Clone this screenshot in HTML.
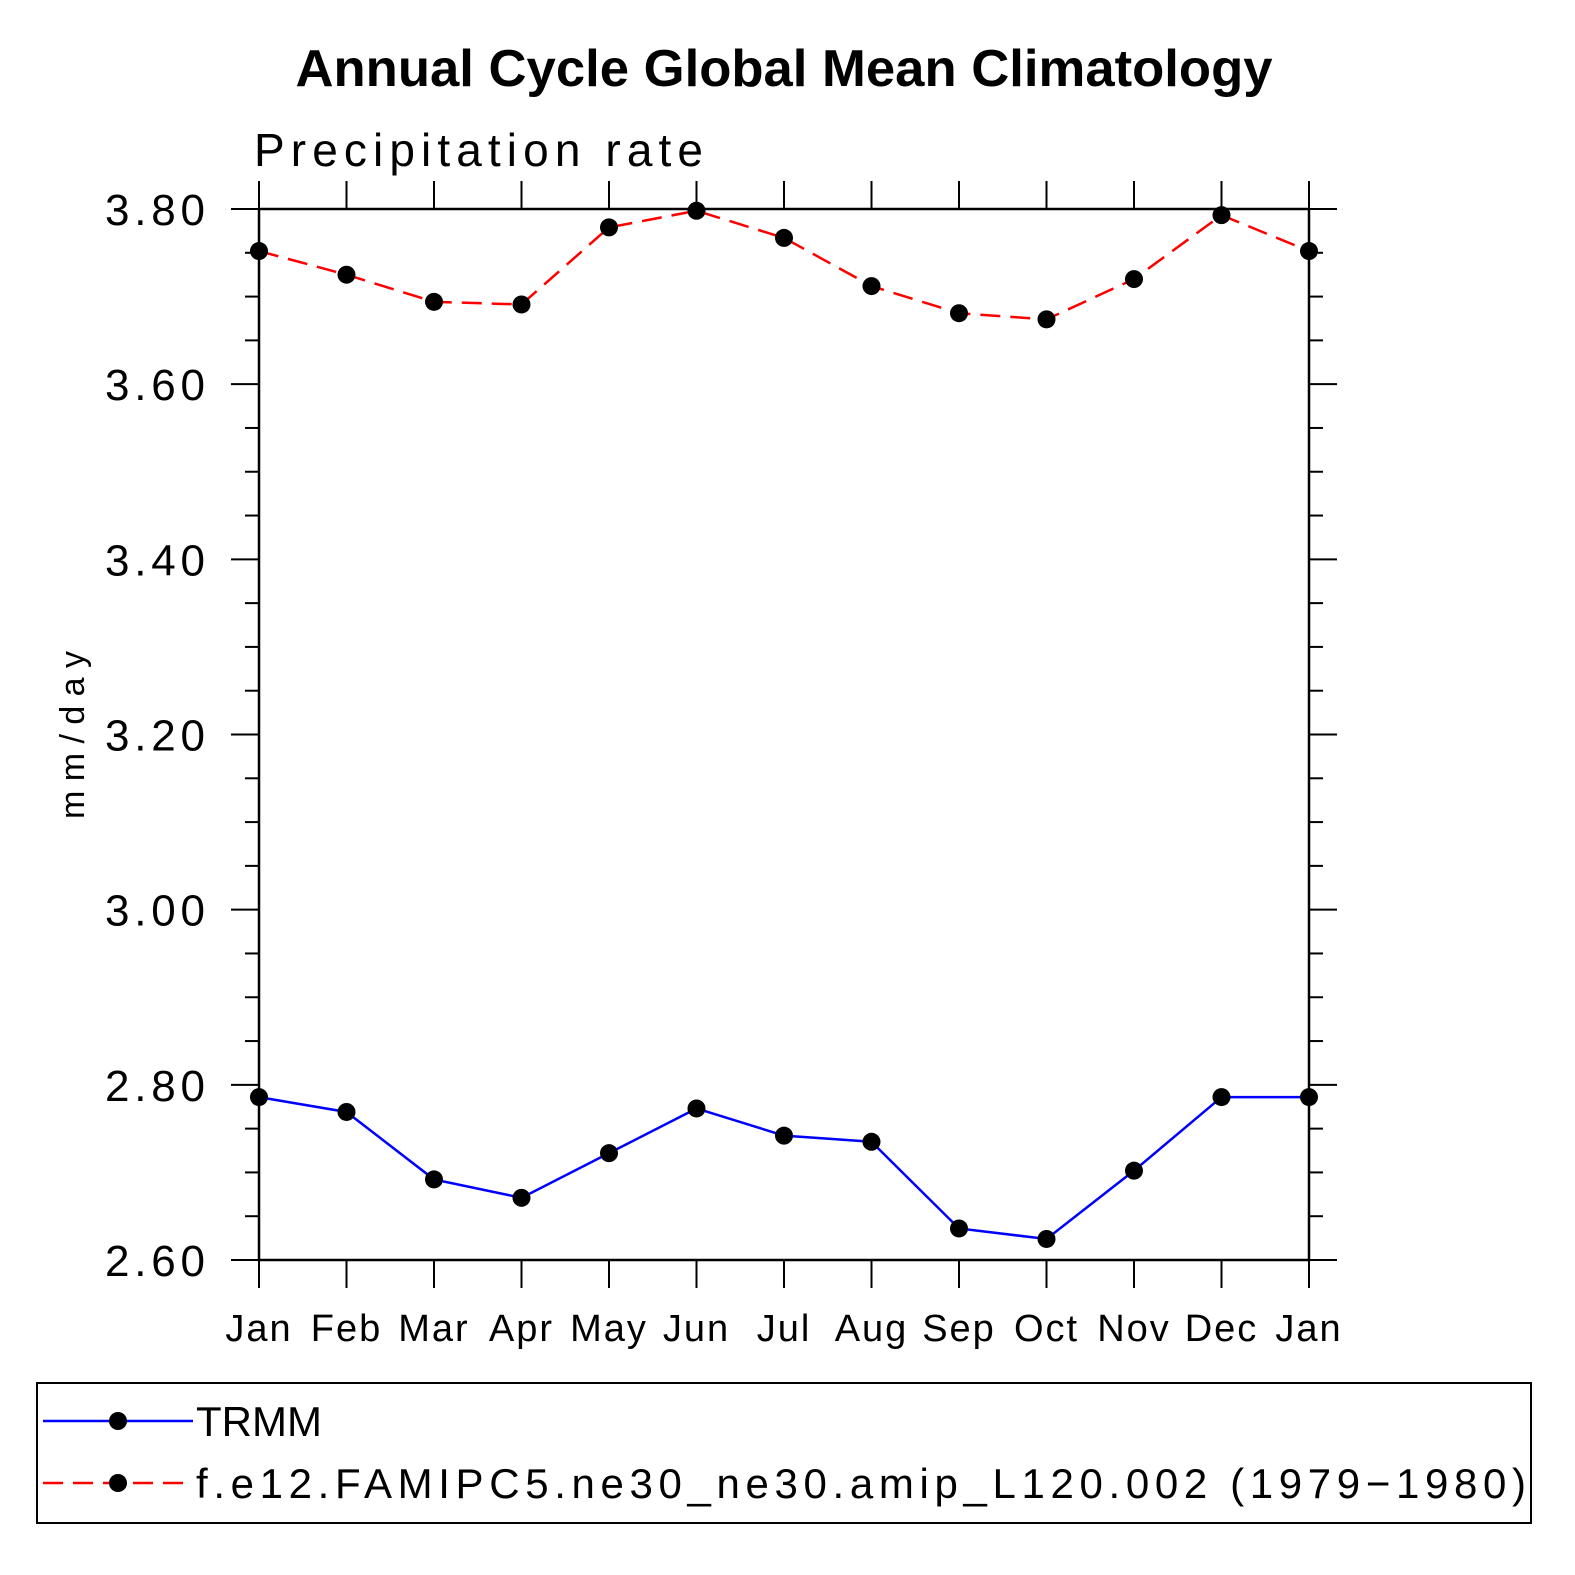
<!DOCTYPE html>
<html><head><meta charset="utf-8"><style>
html,body{margin:0;padding:0;background:#fff;}
svg{display:block;font-family:"Liberation Sans",sans-serif;}
</style></head><body>
<svg id="chart" width="1575" height="1575" viewBox="0 0 1575 1575" xmlns="http://www.w3.org/2000/svg">
<text x="784" y="86" text-anchor="middle" font-size="52" font-weight="bold" textLength="977" lengthAdjust="spacingAndGlyphs">Annual Cycle Global Mean Climatology</text>
<text x="254" y="166" font-size="46" fill="#000" textLength="449">Precipitation rate</text>
<text transform="translate(84,735) rotate(-90)" text-anchor="middle" font-size="34" textLength="168">mm/day</text>
<g id="axes"></g>
<g id="series"></g>
<rect x="37" y="1383" width="1494" height="140" fill="none" stroke="#000" stroke-width="2"/>
<g>
<line x1="43" y1="1421" x2="193" y2="1421" stroke="#00f" stroke-width="2.5"/>
<circle cx="118" cy="1421" r="9" fill="#000"/>
<text x="196" y="1436" font-size="42" textLength="126">TRMM</text>
</g>
<g>
<line x1="43" y1="1483" x2="193" y2="1483" stroke="#f00" stroke-width="2.5" stroke-dasharray="20,10"/>
<circle cx="118" cy="1483" r="9" fill="#000"/>
<text x="196" y="1498" font-size="42" textLength="1330">f.e12.FAMIPC5.ne30_ne30.amip_L120.002 (1979−1980)</text>
</g>
</svg>
<script>
const months = ["Jan","Feb","Mar","Apr","May","Jun","Jul","Aug","Sep","Oct","Nov","Dec","Jan"];
const trmm = [2.786,2.769,2.692,2.671,2.722,2.773,2.742,2.735,2.636,2.624,2.702,2.786,2.786];
const model = [3.752,3.725,3.694,3.691,3.779,3.798,3.767,3.712,3.681,3.674,3.720,3.793,3.752];
const yTicks = ["2.60","2.80","3.00","3.20","3.40","3.60","3.80"];
const X0=259,X1=1309,Y0=1260,Y1=209,VMIN=2.6,VMAX=3.8;
const xs=i=>X0+(X1-X0)*i/(months.length-1);
const ys=v=>Y0-(v-VMIN)/(VMAX-VMIN)*(Y0-Y1);
const NS="http://www.w3.org/2000/svg";
const ax=document.getElementById('axes'), se=document.getElementById('series');
function mk(tag,attrs,parent){const e=document.createElementNS(NS,tag);for(const k in attrs)e.setAttribute(k,attrs[k]);parent.appendChild(e);return e;}
let f=mk('rect',{x:X0,y:Y1,width:X1-X0,height:Y0-Y1,fill:'none',stroke:'#000','stroke-width':2.5},ax);


for(let v=VMIN;v<=VMAX+1e-6;v+=0.05){
  const y=ys(v);const major=Math.abs((v-VMIN)/0.2-Math.round((v-VMIN)/0.2))<1e-3;
  const len=major?28:14;
  mk('line',{x1:X0-len,y1:y,x2:X0,y2:y,stroke:'#000','stroke-width':2},ax);
  mk('line',{x1:X1,y1:y,x2:X1+len,y2:y,stroke:'#000','stroke-width':2},ax);
}
yTicks.forEach(t=>{
  const el=mk('text',{x:105,y:ys(parseFloat(t))+16,'font-size':44,textLength:100},ax);
  el.textContent=t;
  
  
});
months.forEach((m,i)=>{
  const x=xs(i);
  mk('line',{x1:x,y1:Y0,x2:x,y2:Y0+28,stroke:'#000','stroke-width':2},ax);
  mk('line',{x1:x,y1:Y1-28,x2:x,y2:Y1,stroke:'#000','stroke-width':2},ax);
  const el=mk('text',{x:x,y:1341,'text-anchor':'middle','font-size':38,'letter-spacing':2},ax);
  el.textContent=m;
  
  
});
function draw(data,color,dash,name){
  const pts=data.map((v,i)=>xs(i)+','+ys(v)).join(' ');
  const pl=mk('polyline',{points:pts,fill:'none',stroke:color,'stroke-width':2.5},se);
  if(dash)pl.setAttribute('stroke-dasharray',dash);
  
  
  data.forEach((v,i)=>{
    const c=mk('circle',{cx:xs(i),cy:ys(v),r:9,fill:'#000'},se);
    
    
  });
}
draw(trmm,'#00f',null,'trmm');
draw(model,'#f00','20,10','model');
</script>
</body></html>
